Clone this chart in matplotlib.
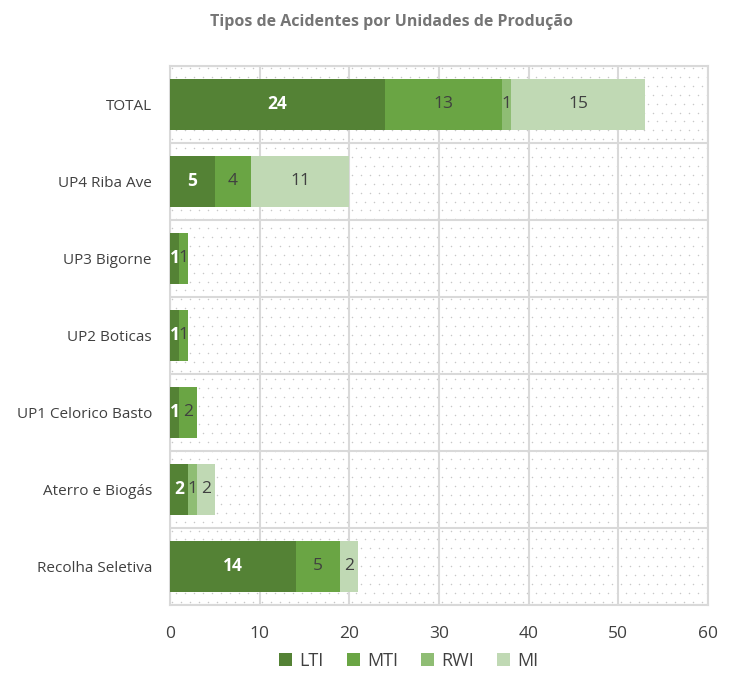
import numpy as np
import matplotlib
matplotlib.use("Agg")
import matplotlib.pyplot as plt

categories = ["Recolha Seletiva", "Aterro e Biogás", "UP1 Celorico Basto",
              "UP2 Boticas", "UP3 Bigorne", "UP4 Riba Ave", "TOTAL"]
lti = [14, 2, 1, 1, 1, 5, 24]
mti = [5, 0, 2, 1, 1, 4, 13]
rwi = [0, 1, 0, 0, 0, 0, 1]
mi = [2, 2, 0, 0, 0, 11, 15]

series = [("LTI", lti, "#548235"), ("MTI", mti, "#6aa544"),
          ("RWI", rwi, "#8fbd74"), ("MI", mi, "#c0d9b4")]

plt.rcParams['font.family'] = ['Open Sans', 'DejaVu Sans']

fig = plt.figure(figsize=(7.34, 6.78), dpi=100)
ax = fig.add_axes([0.2316, 0.1077, 0.7330, 0.7950])

# dotted background pattern
xs, ys = [], []
for r, yy in enumerate(np.arange(0.006, 1.0, 0.0165)):
    off = 0.0 if r % 2 == 0 else 0.008
    for xx in np.arange(0.004 + off, 1.0, 0.0167):
        xs.append(xx)
        ys.append(yy)
ax.scatter(xs, ys, s=1.2, c="#c8c8c8", transform=ax.transAxes, zorder=0, linewidths=0)

y = np.arange(len(categories))
left = np.zeros(len(categories))
for name, vals, col in series:
    vals = np.array(vals)
    bars = ax.barh(y, vals, left=left, height=0.67, color=col, label=name, zorder=3)
    for b, v, l in zip(bars, vals, left):
        if v == 0:
            continue
        if name == "LTI":
            ax.text(l + v / 2, b.get_y() + b.get_height() / 2, str(v), ha="center", va="center",
                    color="white", fontsize=12.5, fontweight="bold", zorder=4)
        else:
            ax.text(l + v / 2, b.get_y() + b.get_height() / 2, str(v), ha="center", va="center",
                    color="#404040", fontsize=12.5, zorder=4)
    left = left + vals

ax.set_xlim(0, 60)
ax.set_ylim(-0.5, len(categories) - 0.5)
ax.set_xticks(range(0, 61, 10))
ax.set_yticks(y)
ax.set_yticklabels(categories)
ax.set_yticks(np.arange(-0.5, len(categories), 1), minor=True)
ax.tick_params(axis="y", which="both", length=0, labelsize=11, labelcolor="#404040", pad=13)
ax.tick_params(axis="x", length=0, labelsize=12.5, labelcolor="#404040", pad=15)
ax.grid(axis="x", color="#d9d9d9", linewidth=1.5, zorder=1)
ax.grid(axis="y", which="minor", color="#d9d9d9", linewidth=1.5, zorder=1)
for s in ax.spines.values():
    s.set_color("#d9d9d9")
    s.set_linewidth(1.5)

fig.text(0.534, 0.968, "Tipos de Acidentes por Unidades de Produção", ha="center", va="center",
         fontsize=11.5, fontweight="bold", color="#757575")

ax.legend(loc="upper center", bbox_to_anchor=(0.444, -0.063), ncol=4, frameon=False,
          handlelength=0.7, handleheight=0.7, handletextpad=0.4, columnspacing=1.3,
          fontsize=13, labelcolor="#404040", borderpad=0.2)

fig.savefig("out.png", dpi=100)
